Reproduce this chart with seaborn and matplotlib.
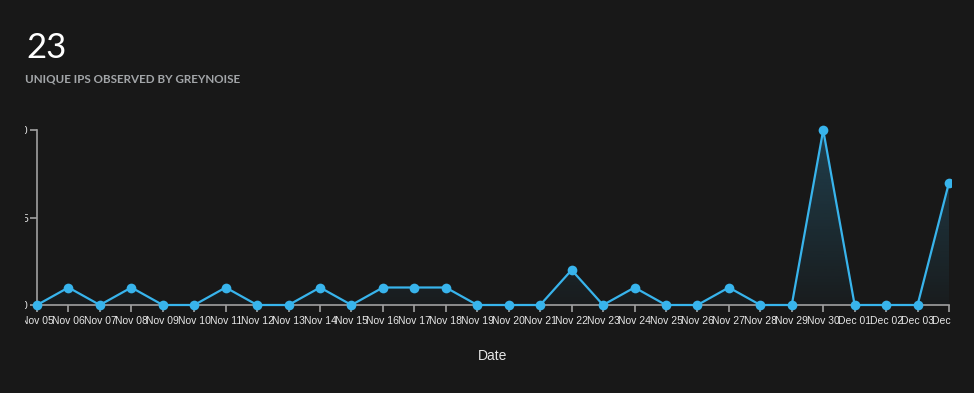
import numpy as np
import pandas as pd
import matplotlib
matplotlib.use("Agg")
import matplotlib.pyplot as plt
import seaborn as sns
from matplotlib.transforms import Bbox, TransformedBbox

dates = ["Nov 05", "Nov 06", "Nov 07", "Nov 08", "Nov 09", "Nov 10", "Nov 11", "Nov 12",
         "Nov 13", "Nov 14", "Nov 15", "Nov 16", "Nov 17", "Nov 18", "Nov 19", "Nov 20",
         "Nov 21", "Nov 22", "Nov 23", "Nov 24", "Nov 25", "Nov 26", "Nov 27", "Nov 28",
         "Nov 29", "Nov 30", "Dec 01", "Dec 02", "Dec 03", "Dec 04"]
counts = [0, 1, 0, 1, 0, 0, 1, 0, 0, 1, 0, 1, 1, 1, 0, 0, 0, 2, 0, 1, 0, 0, 1, 0, 0,
          10, 0, 0, 0, 7]
y_ticks = [0, 5, 10]
headline = "23"
subtitle = "UNIQUE IPS OBSERVED BY GREYNOISE"
x_title = "Date"

BG = "#181818"
LINE = "#38b4ec"
AXIS = "#a0a0a0"
TXT = "#e6e6e6"

sns.set_theme(style="dark")
plt.rcParams["font.family"] = ["Liberation Sans", "DejaVu Sans"]

W, H = 974, 393
fig = plt.figure(figsize=(W / 100, H / 100), dpi=100, facecolor=BG)
ax = fig.add_axes([37 / W, (H - 305) / H, 912 / W, 175 / H])
ax.set_facecolor(BG)

df = pd.DataFrame({"date": dates, "count": counts})
sns.lineplot(data=df, x="date", y="count", sort=False, ax=ax, color=LINE,
             linewidth=1.6, marker="o", markersize=7, markeredgewidth=0)

# gradient area under the line
poly = ax.fill_between(df["date"], df["count"], 0, color="none", linewidth=0)
grad = np.linspace(0, 1, 256).reshape(-1, 1)
rgb = matplotlib.colors.to_rgb(LINE)
img = np.zeros((256, 1, 4))
img[..., 0], img[..., 1], img[..., 2] = rgb
img[..., 3] = (0.03 + 0.22 * grad)[:, :]
im = ax.imshow(img, extent=(0, len(dates) - 1, 0, 10), origin="lower",
               aspect="auto", zorder=1, interpolation="bilinear")
im.set_clip_path(poly.get_paths()[0], transform=ax.transData)

ax.set_xlim(0, len(dates) - 1)
ax.set_ylim(0, 10)
ax.set_yticks(y_ticks)
ax.set_yticklabels([str(v) for v in y_ticks])
ax.set_xticks(range(len(dates)))
ax.set_xticklabels(dates)
ax.set_ylabel("")
ax.set_xlabel(x_title, fontsize=10, color=TXT)
ax.xaxis.label.set_va("baseline")
ax.xaxis.set_label_coords(0.5, -55 / 175)

ax.tick_params(axis="both", bottom=True, left=True, colors=AXIS, labelcolor=TXT,
               length=5, width=1.2, labelsize=7.5, direction="out")
ax.tick_params(axis="y", pad=1.6)
ax.tick_params(axis="x", pad=3.0)
for s in ["top", "right"]:
    ax.spines[s].set_visible(False)
for s in ["left", "bottom"]:
    ax.spines[s].set_color(AXIS)
    ax.spines[s].set_linewidth(1.2)
ax.grid(False)
ax.set_axisbelow(True)

clip = TransformedBbox(Bbox.from_extents(25 / W, 0, 951 / W, 1), fig.transFigure)
for ln in ax.get_lines():
    ln.set_clip_path(None)
    ln.set_clip_box(clip)
    ln.set_clip_on(True)
    ln.set_zorder(5)
for lab in ax.get_xticklabels() + ax.get_yticklabels():
    lab.set_clip_on(True)
    lab.set_clip_box(clip)

fig.text(26 / W, (H - 58) / H, headline, fontsize=25, color="white",
         family=["Lato", "DejaVu Sans"], fontweight="normal", va="baseline", ha="left")
fig.text(25 / W, (H - 83) / H, subtitle, fontsize=8.4, color="#a3a6a9",
         family=["Lato", "DejaVu Sans"], fontweight="bold", va="baseline", ha="left")

fig.savefig("out.png", dpi=100, facecolor=BG)
